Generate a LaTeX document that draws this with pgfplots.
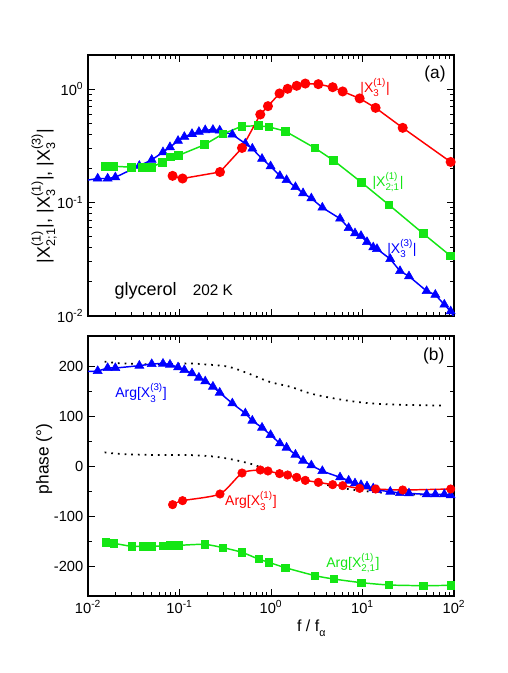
\documentclass[border=0pt]{standalone}
\usepackage{amsmath}
\usepackage{pgfplots}
\pgfplotsset{compat=1.18}
\usepackage{fontspec}
\setmainfont{Liberation Sans}
\definecolor{cred}{RGB}{255,0,0}
\definecolor{cgreen}{RGB}{20,230,20}
\definecolor{cblue}{RGB}{0,0,255}
\newcommand{\Xs}[2]{$\text{X}^{\text{#2}}_{\text{#1}}$}
\begin{document}
\begin{tikzpicture}
\path[use as bounding box] (0,0) rectangle (380.25pt,504.75pt);
% ---------------- top panel ----------------
\begin{axis}[at={(66pt,267.75pt)}, anchor=south west,
  scale only axis, width=274.5pt, height=195.75pt,
  xmode=log, xmin=0.01, xmax=100,
  ymode=log, ymin=0.01, ymax=2,
  tick align=inside, tick pos=both,
  axis line style={line width=0.9pt},
  every tick/.style={black, line width=0.7pt},
  major tick length=5pt, minor tick length=2.8pt,
  tick label style={font=\fontsize{11}{13}\selectfont},
  /pgf/number format/assume math mode=true,
  ytick={0.01,0.1,1}, yticklabels={10\textsuperscript{-2},10\textsuperscript{-1},10\textsuperscript{0}},
  minor ytick={0.02,0.03,0.04,0.05,0.06,0.07,0.08,0.09,0.2,0.3,0.4,0.5,0.6,0.7,0.8,0.9,2},
  xtick={0.01,0.1,1,10,100}, xticklabels={},
  minor xtick={0.02,0.03,0.04,0.05,0.06,0.07,0.08,0.09,0.2,0.3,0.4,0.5,0.6,0.7,0.8,0.9,2,3,4,5,6,7,8,9,20,30,40,50,60,70,80,90},
  ylabel={|\Xs{2;1}{(1)}|, |\Xs{3}{(1)}|, |\Xs{3}{(3)}|},
  ylabel style={font=\fontsize{13.5}{15}\selectfont, at={(axis description cs:-0.12,0.46)}, anchor=center},
]
% blue |X3(3)|
\addplot[cblue, line width=1.1pt] table {
0.01 0.158
0.01277 0.163
0.0164 0.163
0.0199 0.167
0.0364 0.211
0.0497 0.238
0.066 0.278
0.0787 0.308
0.0964 0.350
0.113 0.380
0.137 0.403
0.163 0.420
0.191 0.435
0.232 0.438
0.275 0.432
0.378 0.398
0.524 0.331
0.625 0.299
0.798 0.243
0.99 0.209
1.25 0.172
1.48 0.158
1.85 0.137
2.24 0.121
2.76 0.109
3.64 0.0903
5.68 0.0722
7.06 0.0597
8.28 0.0536
9.63 0.0508
11.2 0.0449
13.1 0.0403
14.4 0.039
20.1 0.0318
25.7 0.0249
32.2 0.0224
50.2 0.0166
62.5 0.0154
78.4 0.0126
92 0.011
100 0.0098
};
\addplot[cblue, only marks, mark=triangle*, mark size=3.9pt] table {
0.01277 0.163
0.0164 0.163
0.0199 0.167
0.0364 0.211
0.0497 0.238
0.066 0.278
0.0787 0.308
0.0964 0.350
0.113 0.380
0.137 0.403
0.163 0.420
0.191 0.435
0.232 0.438
0.275 0.432
0.378 0.398
0.524 0.331
0.625 0.299
0.798 0.243
0.99 0.209
1.25 0.172
1.48 0.158
1.85 0.137
2.24 0.121
2.76 0.109
3.64 0.0903
5.68 0.0722
7.06 0.0597
8.28 0.0536
9.63 0.0508
11.2 0.0449
13.1 0.0403
14.4 0.039
20.1 0.0318
25.7 0.0249
32.2 0.0224
50.2 0.0166
62.5 0.0154
78.4 0.0126
92 0.011
};
% green |X21(1)|
\addplot[cgreen, line width=1.1pt, mark=square*, mark size=2.7pt] table {
0.0156 0.209
0.0192 0.209
0.030 0.205
0.0393 0.205
0.0492 0.205
0.0655 0.227
0.0794 0.253
0.097 0.260
0.187 0.323
0.298 0.403
0.482 0.471
0.728 0.475
0.95 0.465
1.43 0.426
3.03 0.302
4.84 0.235
9.71 0.151
19.5 0.0953
46.2 0.0532
92 0.0338
};
% red |X3(1)|
\addplot[cred, line width=1.1pt, mark=*, mark size=3.2pt] table {
0.084 0.172
0.108 0.163
0.277 0.186
0.482 0.303
0.764 0.598
0.926 0.708
1.24 0.916
1.52 1.007
1.91 1.07
2.37 1.12
3.29 1.106
4.72 1.04
6.07 0.954
9.31 0.828
13.9 0.684
27.5 0.456
92 0.228
};
\node[font=\fontsize{13}{15}\selectfont] at (axis cs:62,1.36) {(a)};
\node[cred, font=\fontsize{10.5}{12}\selectfont] at (axis cs:13.7,1.04) {|\Xs{3}{(1)}|};
\node[cgreen, font=\fontsize{10.5}{12}\selectfont] at (axis cs:19,0.151) {|\Xs{2;1}{(1)}|};
\node[cblue, font=\fontsize{10.5}{12}\selectfont] at (axis cs:27,0.0395) {|\Xs{3}{(3)}|};
\node[anchor=base west, font=\fontsize{13.5}{15}\selectfont] at (axis cs:0.0174,0.0152) {glycerol};
\node[anchor=base west, font=\fontsize{11.5}{13}\selectfont] at (axis cs:0.124,0.0152) {202 K};
\end{axis}
% ---------------- bottom panel ----------------
\begin{axis}[at={(66pt,57.75pt)}, anchor=south west,
  scale only axis, width=274.5pt, height=195pt,
  xmode=log, xmin=0.01, xmax=100,
  ymin=-260, ymax=260, ytick={-200,-100,0,100,200}, minor y tick num=1,
  tick align=inside, tick pos=both,
  axis line style={line width=0.9pt},
  every tick/.style={black, line width=0.7pt},
  major tick length=5pt, minor tick length=2.8pt,
  tick label style={font=\fontsize{11}{13}\selectfont},
  /pgf/number format/assume math mode=true,
  xtick={0.01,0.1,1,10,100},
  minor xtick={0.02,0.03,0.04,0.05,0.06,0.07,0.08,0.09,0.2,0.3,0.4,0.5,0.6,0.7,0.8,0.9,2,3,4,5,6,7,8,9,20,30,40,50,60,70,80,90},
  xticklabels={10\textsuperscript{-2},10\textsuperscript{-1},10\textsuperscript{0},10\textsuperscript{1},10\textsuperscript{2}},
  ylabel={phase (°)},
  ylabel style={font=\fontsize{13}{15}\selectfont, at={(axis description cs:-0.12,0.527)}, anchor=center},
  xlabel={f / f\raisebox{-0.6ex}{\fontsize{8}{9}\selectfont α}},
  xlabel style={font=\fontsize{12}{14}\selectfont, at={(axis description cs:0.61,-0.138)}, anchor=base},
]
% dotted curves
\addplot[black, line width=1.3pt, dash pattern=on 1.3pt off 3.7pt, smooth] table {
0.0152 208.7
0.0231 205.3
0.0535 203.3
0.124 205
0.188 203.3
0.339 198.7
0.561 185.3
0.975 168
1.61 158.7
2.67 145.3
4.41 136.7
7.3 130
12.1 125.3
20 123.3
33 122
76.4 120.7
};
\addplot[black, line width=1.3pt, dash pattern=on 1.3pt off 3.7pt, smooth] table {
0.0152 27.3
0.0231 24
0.0535 22
0.124 22
0.242 18.7
0.401 12
0.663 2
0.975 -11.3
1.61 -21.3
2.67 -30
4.41 -39.3
7.3 -46.7
12.1 -51.3
20 -54.7
33 -56.7
76 -58
};
% blue Arg X3(3)
\addplot[cblue, line width=1.1pt, smooth, tension=0.4] table {
0.01 189.3
0.01277 190
0.0164 196
0.0199 196
0.0364 200.7
0.0497 204
0.066 204.7
0.0787 202.7
0.0964 197.3
0.113 192
0.137 185.3
0.163 176.7
0.191 169.3
0.232 158.7
0.275 146.7
0.378 125.3
0.524 105.3
0.625 90.7
0.798 76.7
0.99 62
1.25 45.3
1.48 36.7
1.85 22.7
2.24 10.7
2.76 1.3
3.64 -10
5.68 -22.7
7.06 -29.3
8.28 -34.7
9.63 -38
11.2 -40.7
13.1 -44.7
14.4 -48
20.1 -51.3
25.7 -54
32.2 -54.7
50.2 -56.7
62.5 -56.7
78.4 -56.7
92 -58.7
100 -61
};
\addplot[cblue, only marks, mark=triangle*, mark size=3.9pt] table {
0.01277 190
0.0164 196
0.0199 196
0.0364 200.7
0.0497 204
0.066 204.7
0.0787 202.7
0.0964 197.3
0.113 192
0.137 185.3
0.163 176.7
0.191 169.3
0.232 158.7
0.275 146.7
0.378 125.3
0.524 105.3
0.625 90.7
0.798 76.7
0.99 62
1.25 45.3
1.48 36.7
1.85 22.7
2.24 10.7
2.76 1.3
3.64 -10
5.68 -22.7
7.06 -29.3
8.28 -34.7
9.63 -38
11.2 -40.7
13.1 -44.7
14.4 -48
20.1 -51.3
25.7 -54
32.2 -54.7
50.2 -56.7
62.5 -56.7
78.4 -56.7
92 -58.7
};
% green Arg X21(1)
\addplot[cgreen, line width=1.1pt, smooth, tension=0.4] table {
0.0156 -152.7
0.0192 -154.7
0.030 -160.7
0.0393 -160.7
0.0492 -160.7
0.0655 -160
0.0794 -158.7
0.097 -158.7
0.187 -156.7
0.298 -163.3
0.482 -172.7
0.728 -186
0.95 -192.7
1.43 -203.3
3.03 -219.3
4.84 -226
9.71 -233.3
19.5 -238
46.2 -239.3
92 -238.7
100 -238.7
};
\addplot[cgreen, only marks, mark=square*, mark size=2.7pt] table {
0.0156 -152.7
0.0192 -154.7
0.030 -160.7
0.0393 -160.7
0.0492 -160.7
0.0655 -160
0.0794 -158.7
0.097 -158.7
0.187 -156.7
0.298 -163.3
0.482 -172.7
0.728 -186
0.95 -192.7
1.43 -203.3
3.03 -219.3
4.84 -226
9.71 -233.3
19.5 -238
46.2 -239.3
92 -238.7
};
% red Arg X3(1)
\addplot[cred, line width=1.1pt, smooth, tension=0.4] table {
0.084 -77.3
0.108 -69.3
0.277 -56
0.482 -14
0.764 -8
0.926 -10
1.24 -15.3
1.52 -18
1.91 -22.7
2.37 -28.7
3.29 -32.7
4.72 -37.3
6.07 -39.3
9.31 -44.7
13.9 -46
27.5 -48
92 -46
100 -46
};
\addplot[cred, only marks, mark=*, mark size=3.2pt] table {
0.084 -77.3
0.108 -69.3
0.277 -56
0.482 -14
0.764 -8
0.926 -10
1.24 -15.3
1.52 -18
1.91 -22.7
2.37 -28.7
3.29 -32.7
4.72 -37.3
6.07 -39.3
9.31 -44.7
13.9 -46
27.5 -48
92 -46
};
\node[font=\fontsize{13}{15}\selectfont] at (axis cs:60,220) {(b)};
\node[cblue, font=\fontsize{10.5}{12}\selectfont] at (axis cs:0.038,146) {Arg[\Xs{3}{(3)}]};
\node[cred, font=\fontsize{10.5}{12}\selectfont] at (axis cs:0.604,-70) {Arg[\Xs{3}{(1)}]};
\node[cgreen, font=\fontsize{10.5}{12}\selectfont] at (axis cs:7.87,-194) {Arg[\Xs{2,1}{(1)}]};
\end{axis}
\end{tikzpicture}
\end{document}
